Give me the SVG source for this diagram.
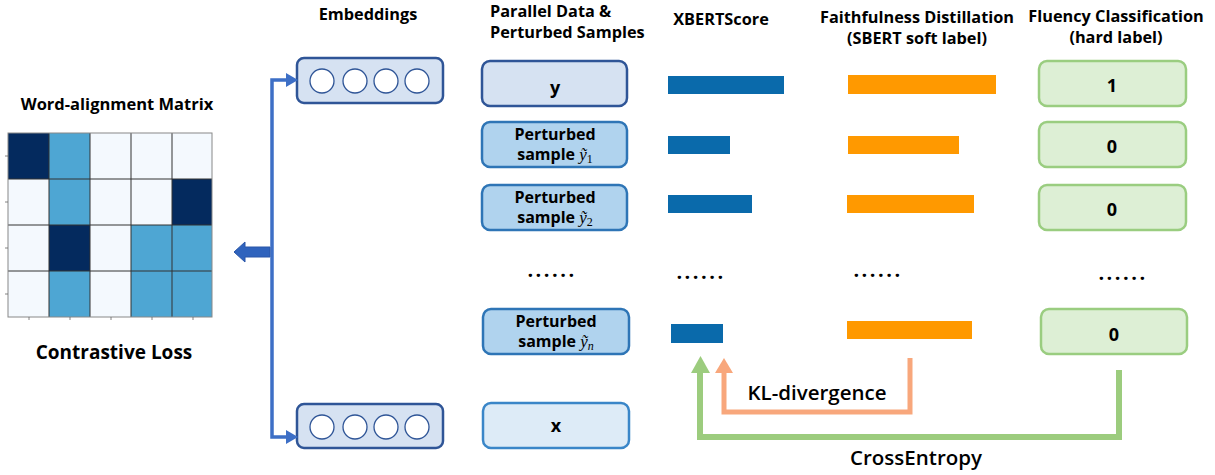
<svg xmlns="http://www.w3.org/2000/svg" width="1215" height="475" viewBox="0 0 1215 475">
<style>
.t{font-family:"Open Sans","Noto Sans","DejaVu Sans",sans-serif;font-weight:bold;fill:#000}
.h{font-size:16.3px}
.bx{font-size:16px}
.dots{font-size:20px;letter-spacing:2.5px}
.lbl{font-size:18px}
.dk{fill:#042a5e}.md{fill:#4ea6d3}.lt{fill:#f4f9fe}
.emb{fill:#d6e2f2;stroke:#2f5597;stroke-width:2.5}
.circ{fill:#fff;stroke:#2f5597;stroke-width:1.3}
.py{fill:#d6e2f2;stroke:#2f5597;stroke-width:2.5}
.pp{fill:#b0d3ee;stroke:#2e75b6;stroke-width:2.5}
.px{fill:#ddebf7;stroke:#3a86c8;stroke-width:2.5}
.fl{fill:#ddefd5;stroke:#9acd80;stroke-width:2.5}
.xb{fill:#0a6aab}.fd{fill:#ff9900}
.m{font-family:"Liberation Serif","DejaVu Serif",serif;font-style:italic;font-weight:normal;font-size:17px}
.sub{font-family:"Liberation Serif","DejaVu Serif",serif;font-weight:normal;font-size:12px}
.c{font-family:"Open Sans","Noto Sans",sans-serif;font-size:20.5px;fill:#000;font-weight:600}
</style>
<rect width="1215" height="475" fill="#fff"/>

<g id="matrix">
<text class="t" x="117" y="110" font-size="16.5" text-anchor="middle">Word-alignment Matrix</text>
<rect class="dk" x="8" y="133" width="41" height="46"/><rect class="md" x="49" y="133" width="41" height="46"/><rect class="lt" x="90" y="133" width="41" height="46"/><rect class="lt" x="131" y="133" width="41" height="46"/><rect class="lt" x="172" y="133" width="40" height="46"/>
<rect class="lt" x="8" y="179" width="41" height="46"/><rect class="md" x="49" y="179" width="41" height="46"/><rect class="lt" x="90" y="179" width="41" height="46"/><rect class="lt" x="131" y="179" width="41" height="46"/><rect class="dk" x="172" y="179" width="40" height="46"/>
<rect class="lt" x="8" y="225" width="41" height="46"/><rect class="dk" x="49" y="225" width="41" height="46"/><rect class="lt" x="90" y="225" width="41" height="46"/><rect class="md" x="131" y="225" width="41" height="46"/><rect class="md" x="172" y="225" width="40" height="46"/>
<rect class="lt" x="8" y="271" width="41" height="46"/><rect class="md" x="49" y="271" width="41" height="46"/><rect class="lt" x="90" y="271" width="41" height="46"/><rect class="md" x="131" y="271" width="41" height="46"/><rect class="md" x="172" y="271" width="40" height="46"/>
<g stroke="#333" stroke-width="1" fill="none">
<path d="M49 133V317M90 133V317M131 133V317M172 133V317M8 179H212M8 225H212M8 271H212"/>
</g>
<rect x="8" y="133" width="204" height="184" fill="none" stroke="#888" stroke-width="1"/>
<path d="M5 156H8M5 202H8M5 248H8M5 294H8M29 317V320M70 317V320M111 317V320M152 317V320M193 317V320" stroke="#666" stroke-width="0.8"/>
<text class="t" x="114" y="359" font-size="19" text-anchor="middle">Contrastive Loss</text>
</g>

<g id="headers">
<text class="t h" x="368" y="20" text-anchor="middle">Embeddings</text>
<text class="t h" x="490" y="17">Parallel Data &amp;<tspan x="490" dy="20.5">Perturbed Samples</tspan></text>
<text class="t h" x="721" y="25" text-anchor="middle">XBERTScore</text>
<text class="t h" x="917" y="23" text-anchor="middle">Faithfulness Distillation<tspan x="917" dy="20.5">(SBERT soft label)</tspan></text>
<text class="t h" x="1116" y="22" text-anchor="middle">Fluency Classification<tspan x="1116" dy="20.5">(hard label)</tspan></text>
</g>

<g id="emb-top">
<rect class="emb" x="297" y="58" width="146" height="45" rx="7"/>
<circle class="circ" cx="322" cy="81" r="12"/><circle class="circ" cx="355" cy="81" r="12"/><circle class="circ" cx="386" cy="81" r="12"/><circle class="circ" cx="417" cy="81" r="12"/>
</g>
<g id="emb-bottom">
<rect class="emb" x="297" y="404" width="146" height="44" rx="7"/>
<circle class="circ" cx="322" cy="427" r="12"/><circle class="circ" cx="355" cy="427" r="12"/><circle class="circ" cx="386" cy="427" r="12"/><circle class="circ" cx="417" cy="427" r="12"/>
</g>

<g id="node-y"><rect class="py" x="482" y="61" width="145" height="45" rx="8"/><text class="t lbl" x="555" y="94" text-anchor="middle">y</text></g>
<g id="node-p1"><rect class="pp" x="482" y="122" width="145" height="45" rx="8"/><text class="t bx" x="555" y="140" text-anchor="middle">Perturbed<tspan x="555" dy="20">sample </tspan><tspan class="m">ỹ</tspan><tspan class="sub" dy="3">1</tspan></text></g>
<g id="node-p2"><rect class="pp" x="482" y="185" width="145" height="45" rx="8"/><text class="t bx" x="555" y="203" text-anchor="middle">Perturbed<tspan x="555" dy="20">sample </tspan><tspan class="m">ỹ</tspan><tspan class="sub" dy="3">2</tspan></text></g>
<text class="t dots" x="552" y="277" text-anchor="middle">......</text>
<g id="node-pn"><rect class="pp" x="483" y="309" width="146" height="45" rx="8"/><text class="t bx" x="556" y="327" text-anchor="middle">Perturbed<tspan x="556" dy="20">sample </tspan><tspan class="m">ỹ</tspan><tspan class="sub m" dy="3" font-size="12">n</tspan></text></g>
<g id="node-x"><rect class="px" x="483" y="403" width="146" height="45" rx="8"/><text class="t lbl" x="556" y="432" text-anchor="middle">x</text></g>

<g id="xbert">
<rect class="xb" x="668" y="76" width="116" height="18"/>
<rect class="xb" x="668" y="136" width="62" height="18"/>
<rect class="xb" x="668" y="195" width="84" height="18"/>
<text class="t dots" x="701" y="279" text-anchor="middle">......</text>
<rect class="xb" x="671" y="324" width="52" height="19"/>
</g>
<g id="faith">
<rect class="fd" x="848" y="75" width="148" height="19"/>
<rect class="fd" x="848" y="136" width="111" height="18"/>
<rect class="fd" x="847" y="195" width="127" height="18"/>
<text class="t dots" x="878" y="277" text-anchor="middle">......</text>
<rect class="fd" x="847" y="321" width="125" height="18"/>
</g>

<g id="fluency">
<rect class="fl" x="1039" y="61" width="147" height="45" rx="8"/><text class="t lbl" x="1112" y="92" text-anchor="middle">1</text>
<rect class="fl" x="1039" y="122" width="147" height="45" rx="8"/><text class="t lbl" x="1112" y="153" text-anchor="middle">0</text>
<rect class="fl" x="1039" y="185" width="147" height="45" rx="8"/><text class="t lbl" x="1112" y="216" text-anchor="middle">0</text>
<text class="t dots" x="1123" y="280" text-anchor="middle">......</text>
<rect class="fl" x="1041" y="309" width="146" height="45" rx="8"/><text class="t lbl" x="1114" y="341" text-anchor="middle">0</text>
</g>

<g id="connectors">
<path d="M290 80H272V437H290" fill="none" stroke="#3d6fc6" stroke-width="3.5"/>
<path d="M286 73L298 80L286 87Z" fill="#3d6fc6"/>
<path d="M286 430L298 437L286 444Z" fill="#3d6fc6"/>
<path d="M270 247H245V242L234 252L245 262V257H270Z" fill="#2f63bd" stroke="#2a56a8" stroke-width="1"/>
<path d="M910 358V412H724V372" fill="none" stroke="#f8a77c" stroke-width="5"/>
<path d="M715 373L724 358L733 373Z" fill="#f8a77c"/>
<path d="M1119 370V437H700V372" fill="none" stroke="#9ccc7e" stroke-width="6"/>
<path d="M691 373L700.5 356L710 373Z" fill="#9ccc7e"/>
<text class="c" x="817" y="400" text-anchor="middle">KL-divergence</text>
<text class="c" x="916" y="465" text-anchor="middle">CrossEntropy</text>
</g>
</svg>
